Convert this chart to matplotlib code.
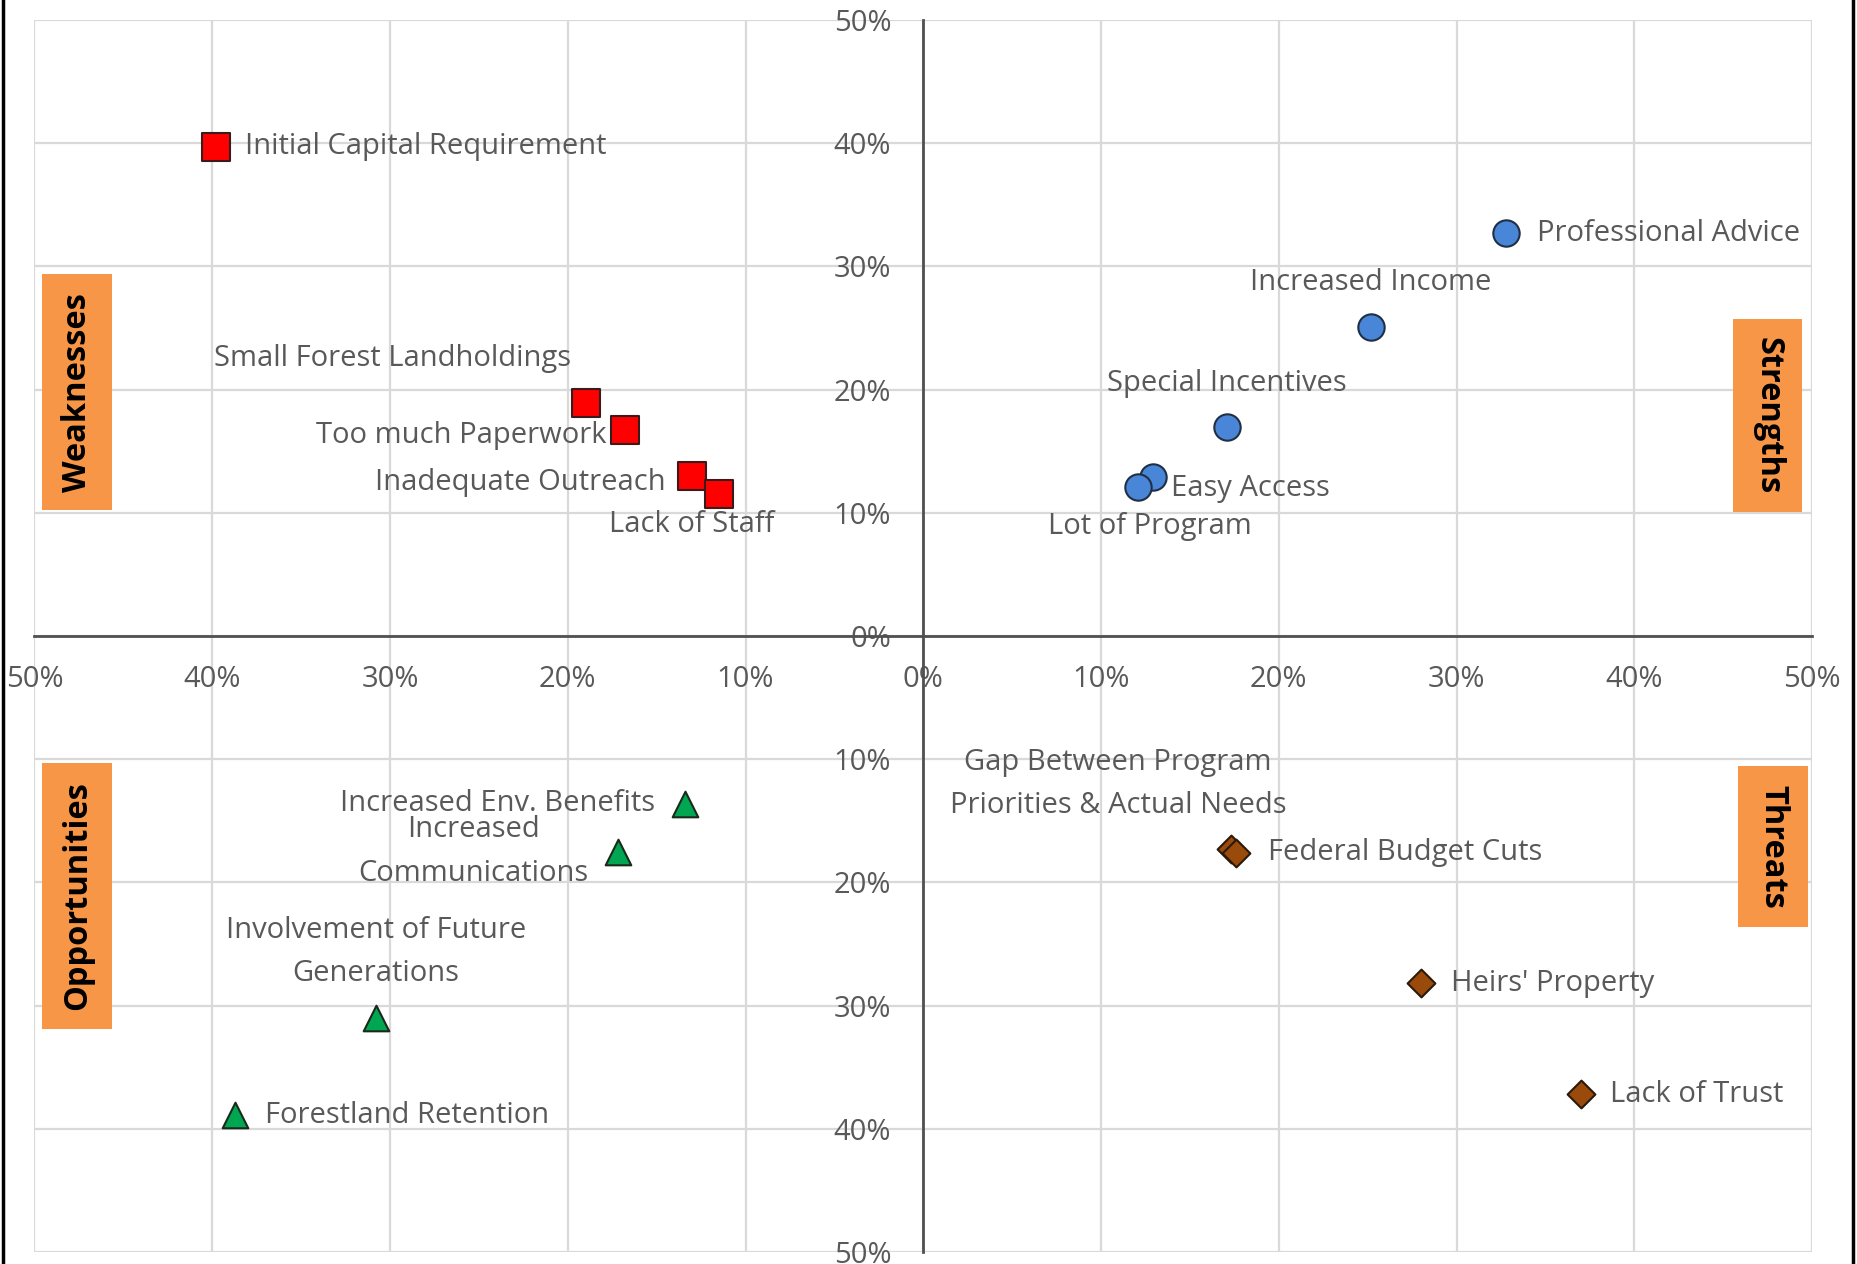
import matplotlib
matplotlib.use("Agg")
import matplotlib.pyplot as plt
from matplotlib.lines import Line2D

plt.rcParams['font.family'] = ['Open Sans', 'DejaVu Sans']

# SWOT factors: x = share on the horizontal scale, y = share on the vertical scale (percent)
# left half of the chart uses negative x, lower half negative y
weak_names = ["Initial Capital Requirement", "Small Forest Landholdings", "Too much Paperwork",
              "Inadequate Outreach", "Lack of Staff"]
weak_x = [-39.8, -19.0, -16.8, -13.0, -11.5]
weak_y = [39.7, 18.9, 16.7, 13.0, 11.5]

strength_names = ["Professional Advice", "Increased Income", "Special Incentives",
                  "Easy Access", "Lot of Program"]
strength_x = [32.8, 25.2, 17.1, 12.9, 12.1]
strength_y = [32.7, 25.1, 17.0, 12.9, 12.1]

opp_names = ["Increased Env. Benefits", "Increased\nCommunications",
             "Involvement of Future\nGenerations", "Forestland Retention"]
opp_x = [-13.4, -17.2, -30.8, -38.7]
opp_y = [-13.6, -17.5, -31.0, -38.9]

threat_names = ["Gap Between Program\nPriorities & Actual Needs", "Federal Budget Cuts",
                "Heirs' Property", "Lack of Trust"]
threat_x = [17.3, 17.6, 28.0, 37.0]
threat_y = [-17.3, -17.6, -28.2, -37.2]

ticks = [-50, -40, -30, -20, -10, 0, 10, 20, 30, 40, 50]

fig = plt.figure(figsize=(18.58, 12.64), dpi=100)
ax = fig.add_axes([34.5 / 1858, 12 / 1264, 1777.5 / 1858, 1232 / 1264])

text_col = "#595959"
lab_size = 21

ax.scatter(weak_x, weak_y, marker="s", s=380, color="#FF0000", edgecolor="#3a1a1a", linewidth=1.5, zorder=5)
ax.scatter(strength_x, strength_y, marker="o", s=360, color="#4A86D8", edgecolor="#1f2f45", linewidth=1.5, zorder=5)
ax.scatter(opp_x, opp_y, marker="^", s=340, color="#00A651", edgecolor="#1a2a1a", linewidth=1.5, zorder=5)
ax.scatter(threat_x, threat_y, marker="D", s=200, color="#9A4A0A", edgecolor="#2a1a0a", linewidth=1.5, zorder=5)

# label offsets in pixels (dx, dy) and alignment
weak_off = [(29, 0, "left"), (-15, 45, "right"), (-18, -5, "right"), (-27, -7, "right"), (-27, -30, "center")]
strength_off = [(31, 0, "left"), (0, 44, "center"), (0, 43, "center"), (18, -11, "left"), (12, -40, "center")]
opp_off = [(-30, 0, "right"), (-29, 0, "right"), (0, 66, "center"), (30, 0, "left")]
threat_off = [(-113, 65, "center"), (32, 0, "left"), (30, 0, "left"), (29, 0, "left")]

for names, xs, ys, offs in [(weak_names, weak_x, weak_y, weak_off),
                            (strength_names, strength_x, strength_y, strength_off),
                            (opp_names, opp_x, opp_y, opp_off),
                            (threat_names, threat_x, threat_y, threat_off)]:
    for name, x, y, (dx, dy, ha) in zip(names, xs, ys, offs):
        ax.annotate(name, (x, y), xytext=(dx, dy), textcoords="offset pixels",
                    ha=ha, va="center", multialignment="center", fontsize=lab_size,
                    color=text_col, linespacing=1.65, zorder=6)

# quadrant tags
box = dict(boxstyle="square,pad=0.56", facecolor="#F79646", edgecolor="none")
tag_size = 23.5
ax.text(-47.6, 19.8, "Weaknesses", rotation=90, ha="center", va="center", fontsize=tag_size,
        fontweight="bold", bbox=box, zorder=7)
ax.text(-47.6, -21.1, "Opportunities", rotation=90, ha="center", va="center", fontsize=tag_size,
        fontweight="bold", bbox=box, zorder=7)
ax.text(47.5, 17.9, "Strengths", rotation=270, ha="center", va="center", fontsize=tag_size,
        fontweight="bold", bbox=box, zorder=7)
ax.text(47.8, -17.1, "Threats", rotation=270, ha="center", va="center", fontsize=tag_size,
        fontweight="bold", bbox=box, zorder=7)

ax.set_xlim(-50, 50)
ax.set_ylim(-50, 50)
ax.set_xticks(ticks)
ax.set_yticks(ticks)
ax.set_xticklabels([f"{abs(t)}%" for t in ticks])
ax.set_yticklabels([f"{abs(t)}%" for t in ticks])
ax.tick_params(length=0, labelsize=21, labelcolor=text_col)
ax.tick_params(axis="y", pad=23)
ax.tick_params(axis="x", pad=21)

ax.grid(True, color="#D9D9D9", linewidth=1.6, zorder=0)
ax.set_axisbelow(True)
for side in ["top", "right"]:
    ax.spines[side].set_visible(False)
for side in ["left", "bottom"]:
    ax.spines[side].set_position("zero")
    ax.spines[side].set_color("#505050")
    ax.spines[side].set_linewidth(2)
    ax.spines[side].set_zorder(3)

# outer border lines on the left and right of the picture
fig.add_artist(Line2D([2.5 / 1858, 2.5 / 1858], [0, 1], color="black", linewidth=2.5))
fig.add_artist(Line2D([1853 / 1858, 1853 / 1858], [0, 1], color="black", linewidth=2.5))

fig.savefig("out.png", dpi=100)
